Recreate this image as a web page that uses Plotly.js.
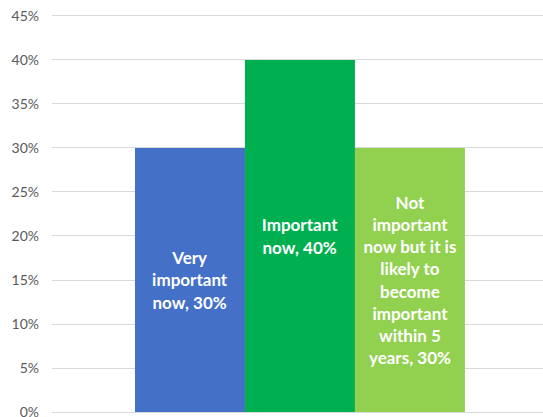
<!DOCTYPE html>
<html>
<head>
<meta charset="utf-8">
<script src="https://cdn.plot.ly/plotly-3.0.1.min.js"></script>
<style>html,body{margin:0;padding:0;background:#fff;}#chart{width:543px;height:417px;}</style>
</head>
<body>
<div id="chart"></div>
<script>
const category = [""];
const seriesNames = ["Very important now", "Important now", "Not important now but it is likely to become important within 5 years"];
const seriesLabels = ["Very<br>important<br>now, 30%", "Important<br>now, 40%", "Not<br>important<br>now but it is<br>likely to<br>become<br>important<br>within 5<br>years, 30%"];
const seriesValues = [0.30, 0.40, 0.30];
const seriesColors = ["#4470c8", "#00b050", "#92d050"];
const yTickVals = [0, 0.05, 0.10, 0.15, 0.20, 0.25, 0.30, 0.35, 0.40, 0.45];

const traces = seriesNames.map((name, i) => ({
  type: "bar",
  name: name,
  x: category,
  y: [seriesValues[i]],
  text: [seriesLabels[i]],
  texttemplate: "%{text}",
  textposition: "inside",
  insidetextanchor: "middle",
  textangle: 0,
  insidetextfont: {family: "Lato, 'Open Sans', sans-serif", size: 17, color: "#ffffff", weight: "bold"},
  marker: {color: seriesColors[i], line: {width: 0}},
  hoverinfo: "skip"
}));

const layout = {
  width: 543, height: 417,
  margin: {l: 52, r: 0, t: 10, b: 0},
  barmode: "group",
  bargap: 0.328,
  bargroupgap: 0,
  showlegend: false,
  paper_bgcolor: "#ffffff",
  plot_bgcolor: "#ffffff",
  font: {family: "Lato, 'Open Sans', sans-serif", color: "#595959"},
  xaxis: {range: [-0.505, 0.495], showticklabels: false, showgrid: false, zeroline: false, showline: false, ticks: ""},
  yaxis: {
    range: [-0.00568, 0.4568],
    tickvals: yTickVals,
    tickformat: ".0%",
    tickfont: {size: 14, color: "#595959"},
    ticklabeloverflow: "allow",
    showgrid: true, gridcolor: "#d9d9d9", gridwidth: 1,
    zeroline: false,
    showline: false, ticks: "",
    ticklabelstandoff: 12,
    automargin: false
  }
};

Plotly.newPlot("chart", traces, layout, {staticPlot: true, displayModeBar: false});
</script>
</body>
</html>
